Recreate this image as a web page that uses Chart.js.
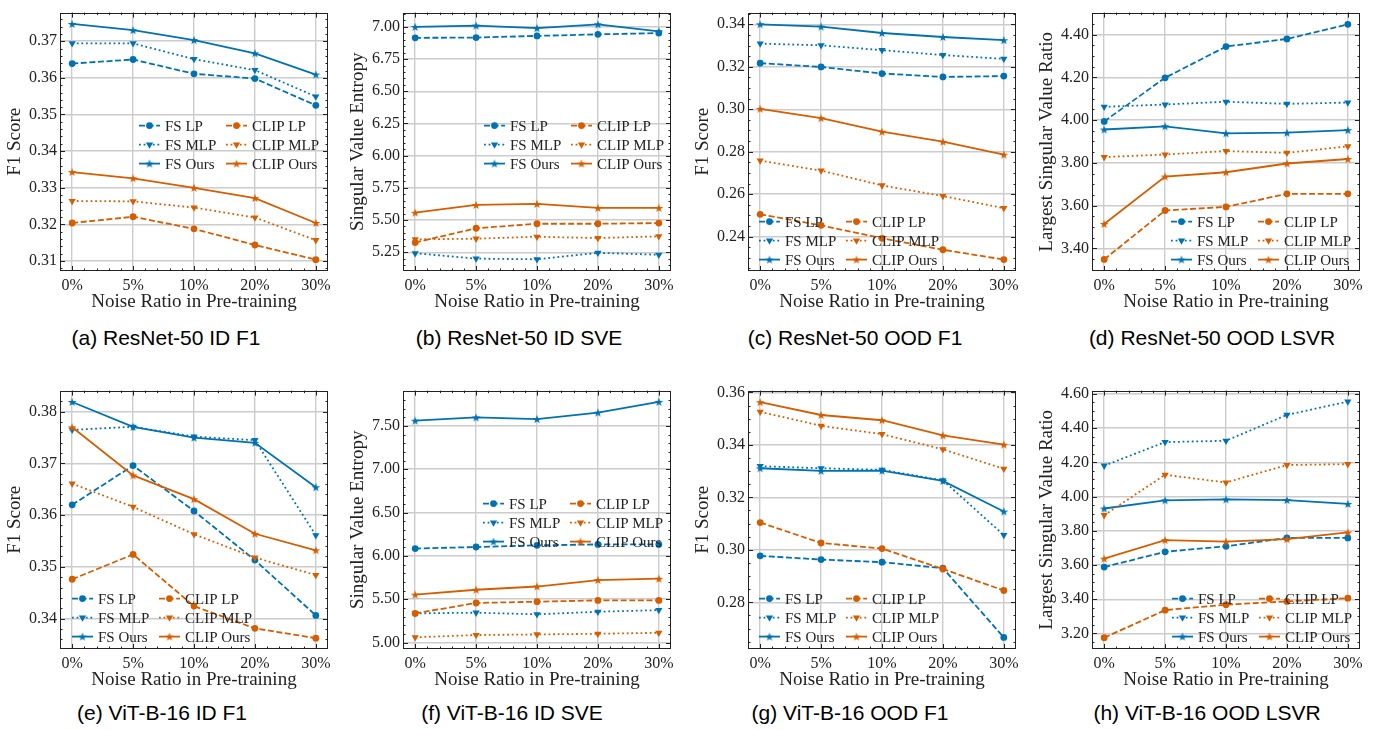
<!DOCTYPE html>
<html>
<head>
<meta charset="utf-8">
<script src="https://cdn.jsdelivr.net/npm/chart.js@4.4.0/dist/chart.umd.min.js"></script>
<style>
  body { margin: 0; background: #fff; width: 1383px; height: 730px; position: relative; overflow: hidden; }
  canvas.panel { position: absolute; }
  .cap { position: absolute; width: 340px; text-align: center; font-family: "Liberation Sans", Arial, sans-serif; font-size: 21px; line-height: 24px; color: #000; }
</style>
</head>
<body>
<script>
// x categories
const noiseLabels = ["0%", "5%", "10%", "20%", "30%"];
const seriesNames = ["FS LP", "FS MLP", "FS Ours", "CLIP LP", "CLIP MLP", "CLIP Ours"];

// (a) ResNet-50 ID F1
const a_fsLP = [0.3639, 0.3650, 0.3611, 0.3598, 0.3525];
const a_fsMLP = [0.3694, 0.3694, 0.3651, 0.3621, 0.3549];
const a_fsOurs = [0.3747, 0.3730, 0.3703, 0.3667, 0.3609];
const a_clipLP = [0.3204, 0.3221, 0.3188, 0.3144, 0.3104];
const a_clipMLP = [0.3264, 0.3263, 0.3246, 0.3219, 0.3157];
const a_clipOurs = [0.3343, 0.3326, 0.3300, 0.3272, 0.3204];
const a_yTicks = [0.31, 0.32, 0.33, 0.34, 0.35, 0.36, 0.37];

// (b) ResNet-50 ID SVE
const b_fsLP = [6.915, 6.917, 6.930, 6.942, 6.952];
const b_fsMLP = [5.242, 5.200, 5.195, 5.245, 5.230];
const b_fsOurs = [7.000, 7.010, 6.990, 7.020, 6.965];
const b_clipLP = [5.325, 5.436, 5.471, 5.471, 5.476];
const b_clipMLP = [5.350, 5.355, 5.370, 5.360, 5.373];
const b_clipOurs = [5.557, 5.617, 5.625, 5.594, 5.594];
const b_yTicks = [5.25, 5.50, 5.75, 6.00, 6.25, 6.50, 6.75, 7.00];

// (c) ResNet-50 OOD F1
const c_fsLP = [0.3217, 0.3199, 0.3168, 0.3152, 0.3156];
const c_fsMLP = [0.3309, 0.3301, 0.3278, 0.3255, 0.3237];
const c_fsOurs = [0.3400, 0.3389, 0.3359, 0.3340, 0.3325];
const c_clipLP = [0.2505, 0.2453, 0.2392, 0.2338, 0.2292];
const c_clipMLP = [0.2758, 0.2711, 0.2641, 0.2591, 0.2534];
const c_clipOurs = [0.3002, 0.2958, 0.2894, 0.2847, 0.2786];
const c_yTicks = [0.24, 0.26, 0.28, 0.30, 0.32, 0.34];

// (d) ResNet-50 OOD LSVR
const d_fsLP = [3.994, 4.198, 4.344, 4.380, 4.448];
const d_fsMLP = [4.062, 4.073, 4.086, 4.076, 4.082];
const d_fsOurs = [3.956, 3.971, 3.938, 3.941, 3.953];
const d_clipLP = [3.348, 3.577, 3.594, 3.655, 3.655];
const d_clipMLP = [3.827, 3.839, 3.855, 3.847, 3.877];
const d_clipOurs = [3.514, 3.736, 3.756, 3.797, 3.818];
const d_yTicks = [3.40, 3.60, 3.80, 4.00, 4.20, 4.40];

// (e) ViT-B-16 ID F1
const e_fsLP = [0.3620, 0.3696, 0.3608, 0.3513, 0.3406];
const e_fsMLP = [0.3765, 0.3771, 0.3752, 0.3745, 0.3561];
const e_fsOurs = [0.3819, 0.3771, 0.3750, 0.3740, 0.3654];
const e_clipLP = [0.3476, 0.3524, 0.3424, 0.3381, 0.3362];
const e_clipMLP = [0.3661, 0.3616, 0.3563, 0.3518, 0.3484];
const e_clipOurs = [0.3770, 0.3677, 0.3631, 0.3564, 0.3532];
const e_yTicks = [0.34, 0.35, 0.36, 0.37, 0.38];

// (f) ViT-B-16 ID SVE
const f_fsLP = [6.084, 6.102, 6.121, 6.132, 6.132];
const f_fsMLP = [5.336, 5.344, 5.325, 5.355, 5.374];
const f_fsOurs = [7.560, 7.597, 7.578, 7.653, 7.777];
const f_clipLP = [5.336, 5.456, 5.471, 5.486, 5.486];
const f_clipMLP = [5.060, 5.086, 5.093, 5.101, 5.112];
const f_clipOurs = [5.553, 5.609, 5.646, 5.721, 5.736];
const f_yTicks = [5.00, 5.50, 6.00, 6.50, 7.00, 7.50];

// (g) ViT-B-16 OOD F1
const g_fsLP = [0.2977, 0.2963, 0.2953, 0.2930, 0.2666];
const g_fsMLP = [0.3319, 0.3311, 0.3305, 0.3265, 0.3056];
const g_fsOurs = [0.3311, 0.3301, 0.3302, 0.3263, 0.3146];
const g_clipLP = [0.3104, 0.3026, 0.3005, 0.2927, 0.2845];
const g_clipMLP = [0.3526, 0.3473, 0.3441, 0.3383, 0.3309];
const g_clipOurs = [0.3563, 0.3514, 0.3494, 0.3436, 0.3401];
const g_yTicks = [0.28, 0.30, 0.32, 0.34, 0.36];

// (h) ViT-B-16 OOD LSVR
const h_fsLP = [3.588, 3.677, 3.709, 3.758, 3.758];
const h_fsMLP = [4.180, 4.318, 4.326, 4.477, 4.555];
const h_fsOurs = [3.930, 3.978, 3.983, 3.979, 3.957];
const h_clipLP = [3.175, 3.336, 3.368, 3.387, 3.406];
const h_clipMLP = [3.891, 4.127, 4.082, 4.184, 4.189];
const h_clipOurs = [3.637, 3.745, 3.736, 3.751, 3.790];
const h_yTicks = [3.20, 3.40, 3.60, 3.80, 4.00, 4.20, 4.40, 4.60];

const F1 = "F1 Score", SVE = "Singular Value Entropy", LSVR = "Largest Singular Value Ratio";

const panels = [
  { cap: "(a) ResNet-50 ID F1", yTitle: F1, s: [a_fsLP, a_fsMLP, a_fsOurs, a_clipLP, a_clipMLP, a_clipOurs], ticks: a_yTicks, min: 0.3073, max: 0.3778, div: 5, leg: [79, 113], pos: [0, 0, 166] },
  { cap: "(b) ResNet-50 ID SVE", yTitle: SVE, s: [b_fsLP, b_fsMLP, b_fsOurs, b_clipLP, b_clipMLP, b_clipOurs], ticks: b_yTicks, min: 5.104, max: 7.111, div: 5, leg: [81, 113], pos: [343, 0, 519] },
  { cap: "(c) ResNet-50 OOD F1", yTitle: F1, s: [c_fsLP, c_fsMLP, c_fsOurs, c_clipLP, c_clipMLP, c_clipOurs], ticks: c_yTicks, min: 0.2238, max: 0.3455, div: 4, leg: [11, 209], pos: [688, 0, 855] },
  { cap: "(d) ResNet-50 OOD LSVR", yTitle: LSVR, s: [d_fsLP, d_fsMLP, d_fsOurs, d_clipLP, d_clipMLP, d_clipOurs], ticks: d_yTicks, min: 3.294, max: 4.503, div: 4, leg: [79, 209], pos: [1032, 0, 1212] },
  { cap: "(e) ViT-B-16 ID F1", yTitle: F1, s: [e_fsLP, e_fsMLP, e_fsOurs, e_clipLP, e_clipMLP, e_clipOurs], ticks: e_yTicks, min: 0.3341, max: 0.3841, div: 5, leg: [12, 208], pos: [0, 378, 162] },
  { cap: "(f) ViT-B-16 ID SVE", yTitle: SVE, s: [f_fsLP, f_fsMLP, f_fsOurs, f_clipLP, f_clipMLP, f_clipOurs], ticks: f_yTicks, min: 4.925, max: 7.907, div: 5, leg: [80, 113], pos: [343, 378, 512] },
  { cap: "(g) ViT-B-16 OOD F1", yTitle: F1, s: [g_fsLP, g_fsMLP, g_fsOurs, g_clipLP, g_clipMLP, g_clipOurs], ticks: g_yTicks, min: 0.2622, max: 0.3607, div: 4, leg: [11, 208], pos: [688, 378, 850] },
  { cap: "(h) ViT-B-16 OOD LSVR", yTitle: LSVR, s: [h_fsLP, h_fsMLP, h_fsOurs, h_clipLP, h_clipMLP, h_clipOurs], ticks: h_yTicks, min: 3.109, max: 4.619, div: 4, leg: [80, 208], pos: [1032, 378, 1207] },
];

const BLUE = "#0072B2", ORANGE = "#D55E00";
const SERIF = '"Liberation Serif", "Times New Roman", serif';

function starImage(color) {
  const c = document.createElement("canvas");
  c.width = 12; c.height = 12;
  const g = c.getContext("2d");
  g.fillStyle = color;
  g.beginPath();
  for (let k = 0; k < 10; k++) {
    const r = k % 2 ? 1.8 : 4.6;
    const a = -Math.PI / 2 + k * Math.PI / 5;
    const px = 6 + r * Math.cos(a), py = 6.4 + r * Math.sin(a);
    k ? g.lineTo(px, py) : g.moveTo(px, py);
  }
  g.closePath();
  g.fill();
  return c;
}
const stars = { [BLUE]: starImage(BLUE), [ORANGE]: starImage(ORANGE) };

function styleFor(i) {
  const color = i < 3 ? BLUE : ORANGE;
  const kind = i % 3;
  if (kind === 0) return { color, dash: [6, 2.6], pointStyle: "circle", radius: 3.4, rot: 0 };
  if (kind === 1) return { color, dash: [1.8, 2.8], pointStyle: "triangle", radius: 4.2, rot: 180 };
  return { color, dash: [], pointStyle: stars[color], radius: 5, rot: 0 };
}

// inward ticks on all four sides + frame
const frameTicks = {
  id: "frameTicks",
  afterDraw(chart, args, opts) {
    const { ctx, chartArea: ca, scales: { x, y } } = chart;
    ctx.save();
    ctx.strokeStyle = "#222";
    ctx.lineWidth = 1;
    ctx.setLineDash([]);
    ctx.strokeRect(Math.round(ca.left) + 0.5, Math.round(ca.top) + 0.5, Math.round(ca.width) - 1, Math.round(ca.height) - 1);
    ctx.beginPath();
    const vt = (px, len) => {
      px = Math.round(px) + 0.5;
      ctx.moveTo(px, ca.bottom); ctx.lineTo(px, ca.bottom - len);
      ctx.moveTo(px, ca.top); ctx.lineTo(px, ca.top + len);
    };
    const ht = (py, len) => {
      py = Math.round(py) + 0.5;
      ctx.moveTo(ca.left, py); ctx.lineTo(ca.left + len, py);
      ctx.moveTo(ca.right, py); ctx.lineTo(ca.right - len, py);
    };
    for (let k = -1; k <= 21; k++) {
      const v = k * 0.2;
      if (v <= x.min || v >= x.max) continue;
      vt(x.getPixelForValue(v), k % 5 === 0 ? 5 : 2.5);
    }
    const step = opts.ticks[1] - opts.ticks[0];
    const minor = step / opts.div;
    const k0 = Math.ceil(y.min / minor), k1 = Math.floor(y.max / minor);
    for (let k = k0; k <= k1; k++) {
      const v = k * minor;
      const r = (v - opts.ticks[0]) / step;
      const isMajor = Math.abs(r - Math.round(r)) < 1e-6;
      ht(y.getPixelForValue(v), isMajor ? 5 : 2.5);
    }
    ctx.stroke();
    ctx.restore();
  }
};

// two-column legend drawn inside the axes, no frame
const insideLegend = {
  id: "insideLegend",
  afterDatasetsDraw(chart, args, opts) {
    const { ctx, chartArea: ca } = chart;
    chart.data.datasets.forEach((ds, i) => {
      const col = Math.floor(i / 3), row = i % 3;
      const x0 = ca.left + opts.x + col * 87;
      const yc = ca.top + opts.y + row * 19;
      ctx.save();
      ctx.strokeStyle = ds.borderColor;
      ctx.lineWidth = ds.borderWidth;
      ctx.setLineDash(ds.borderDash);
      ctx.beginPath();
      ctx.moveTo(x0, yc); ctx.lineTo(x0 + 21, yc);
      ctx.stroke();
      ctx.setLineDash([]);
      ctx.fillStyle = ds.borderColor;
      Chart.helpers.drawPoint(ctx, { pointStyle: ds.pointStyle, radius: ds.pointRadius, rotation: ds.pointRotation, borderWidth: 0 }, x0 + 10.5, yc);
      ctx.fillStyle = "#222";
      ctx.font = "15px " + SERIF;
      ctx.textBaseline = "middle";
      ctx.fillText(ds.label, x0 + 26, yc + 1);
      ctx.restore();
    });
  }
};

panels.forEach((p) => {
  const cv = document.createElement("canvas");
  cv.className = "panel";
  cv.width = 340; cv.height = 320;
  cv.style.left = p.pos[0] + "px";
  cv.style.top = p.pos[1] + "px";
  document.body.appendChild(cv);

  const cap = document.createElement("div");
  cap.className = "cap";
  cap.textContent = p.cap;
  cap.style.left = (p.pos[2] - 170) + "px";
  cap.style.top = (p.pos[1] === 0 ? 326 : 701) + "px";
  document.body.appendChild(cap);

  const datasets = p.s.map((vals, i) => {
    const st = styleFor(i);
    return {
      label: seriesNames[i],
      data: vals.map((v, k) => ({ x: k, y: v })),
      borderColor: st.color,
      backgroundColor: st.color,
      borderWidth: 1.8,
      borderDash: st.dash,
      pointStyle: st.pointStyle,
      pointRadius: st.radius,
      pointRotation: st.rot,
      pointBorderWidth: 0,
      pointBackgroundColor: st.color,
      tension: 0,
      order: 6 - i,
    };
  });

  new Chart(cv, {
    type: "line",
    data: { datasets },
    plugins: [frameTicks, insideLegend],
    options: {
      responsive: false,
      animation: false,
      devicePixelRatio: 1,
      layout: { padding: { top: 5, right: 12, left: 0, bottom: 0 } },
      plugins: {
        legend: { display: false },
        tooltip: { enabled: false },
        frameTicks: { ticks: p.ticks, div: p.div },
        insideLegend: { x: p.leg[0], y: p.leg[1] },
      },
      scales: {
        x: {
          type: "linear",
          min: -0.2, max: 4.2,
          afterBuildTicks: (s) => { s.ticks = noiseLabels.map((_, k) => ({ value: k })); },
          afterFit: (s) => { s.height = 49; },
          grid: { color: "#cccccc", lineWidth: 1.4, drawTicks: false },
          border: { display: false },
          ticks: { padding: 5, color: "#222", font: { family: SERIF, size: 16 }, callback: (v) => noiseLabels[v], maxRotation: 0 },
          title: { display: true, text: "Noise Ratio in Pre-training", color: "#222", font: { family: SERIF, size: 19 }, padding: { top: 0, bottom: 7 } },
        },
        y: {
          min: p.min, max: p.max,
          afterBuildTicks: (s) => { s.ticks = p.ticks.map((v) => ({ value: v })); },
          afterFit: (s) => { s.width = 60; },
          grid: { color: "#cccccc", lineWidth: 1.4, drawTicks: false },
          border: { display: false },
          ticks: { padding: 3, color: "#222", font: { family: SERIF, size: 16 }, callback: (v) => v.toFixed(2) },
          title: { display: true, text: p.yTitle, color: "#222", font: { family: SERIF, size: 19 }, padding: { top: 4, bottom: 0 } },
        },
      },
    },
  });
});
</script>
</body>
</html>
